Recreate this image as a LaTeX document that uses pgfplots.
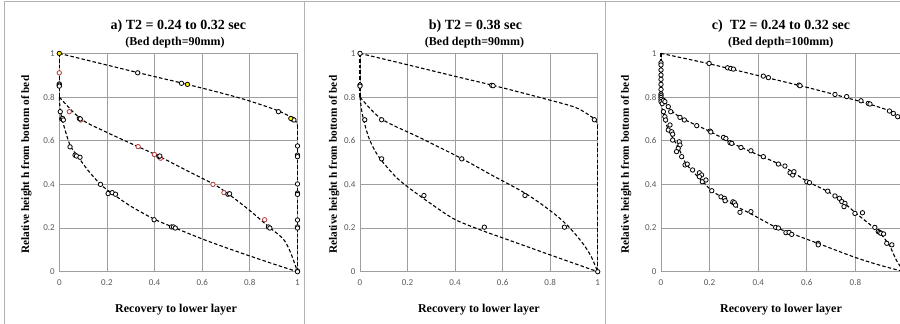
\documentclass[border=0pt]{standalone}
\usepackage{pgfplots}
\pgfplotsset{compat=1.18}
\usepackage{fontspec}
\setmainfont{Liberation Serif}
\newfontfamily\carlito{Carlito}
\definecolor{gridc}{gray}{0.62}
\definecolor{tickc}{gray}{0.35}
\definecolor{redm}{RGB}{180,60,58}
\definecolor{borderc}{gray}{0.70}
\pgfplotsset{
  panel/.style={
    scale only axis, height=218.3pt,
    xmin=0, xmax=1, ymin=0, ymax=1,
    xtick={0,0.2,0.4,0.6,0.8,1}, ytick={0,0.2,0.4,0.6,0.8,1},
    grid=major, grid style={draw=gridc, line width=0.8pt},
    axis line style={draw=gridc, line width=0.8pt},
    major tick length=0pt,
    tick label style={font=\carlito\fontsize{9}{10}\selectfont, text=tickc},
    /pgf/number format/assume math mode=true,
    xticklabel style={yshift=-4pt}, yticklabel style={xshift=-1pt},
    clip=false, anchor=south west,
  },
  dline/.style={black, line width=1.1pt, dash pattern=on 3.5pt off 2.2pt, no marks},
  bm/.style={only marks, mark=*, mark size=2.2pt, mark options={draw=black, fill=white, line width=0.8pt, solid}},
  rm/.style={only marks, mark=*, mark size=2.2pt, mark options={draw=redm, fill=white, line width=0.8pt, solid}},
  ym/.style={only marks, mark=*, mark size=2.2pt, mark options={draw=black, fill=yellow, line width=0.8pt, solid}},
}
\tikzset{
  ttl/.style={anchor=base, font=\fontsize{14}{16}\selectfont\bfseries},
  sttl/.style={anchor=base, font=\fontsize{12}{14}\selectfont\bfseries},
  xlab/.style={anchor=base, font=\fontsize{12}{14}\selectfont\bfseries},
  ylab/.style={anchor=base, rotate=90, font=\fontsize{11.3}{13}\selectfont\bfseries},
}
\begin{document}
\begin{tikzpicture}[x=1pt,y=1pt]
\path[use as bounding box] (0,0) rectangle (900,324);
\clip (0,0) rectangle (900,324);
\fill[white] (0,0) rectangle (900,324);
\draw[borderc, line width=0.8pt] (4,0) -- (4,322.3) -- (900,322.3);
\draw[borderc, line width=0.8pt] (304,0) -- (304,322.3);
\draw[borderc, line width=0.8pt] (605,0) -- (605,322.3);

% ---------------- panel a ----------------
\begin{axis}[panel, width=238.2pt, at={(59.3pt,52.3pt)}]
\addplot[dline] coordinates {(0,1) (0,0.8)};
\addplot[dline, smooth] coordinates {(0,1) (0.33,0.912) (0.53,0.86) (0.75,0.798) (0.9,0.745) (0.96,0.716) (0.99,0.695) (1,0.67)};
\addplot[dline] coordinates {(1,0.67) (1,0)};
\addplot[dline, smooth] coordinates {(0,0.8) (0.09,0.70) (0.2,0.638) (0.33,0.573) (0.42,0.528) (0.55,0.455) (0.65,0.40) (0.71,0.356) (0.8,0.28) (0.88,0.205) (0.94,0.15) (0.97,0.09) (1,0)};
\addplot[dline, smooth] coordinates {(0,0.8) (0.004,0.74) (0.015,0.685) (0.045,0.58) (0.08,0.525) (0.12,0.465) (0.173,0.40) (0.22,0.36) (0.3,0.3) (0.4,0.24) (0.48,0.203) (0.6,0.15) (0.7,0.11) (0.8,0.072) (0.9,0.035) (1,0)};
\addplot[rm] coordinates {(0,0.911) (0,0.855) (0.042,0.733) (0.09,0.695) (0.331,0.573) (0.399,0.537) (0.425,0.52) (0.645,0.40) (0.691,0.362) (0.862,0.238)};
\addplot[bm] coordinates {(0,0.86) (0,0.855) (0,0.85) (0.329,0.911) (0.513,0.863) (0.92,0.733) (0.98,0.698) (0.985,0.695)
 (0.084,0.702) (0.088,0.70) (0.418,0.528) (0.422,0.53) (0.708,0.355) (0.715,0.357) (0.878,0.205) (0.884,0.2)
 (0.004,0.733) (0.01,0.70) (0.014,0.702) (0.017,0.695) (0.045,0.572) (0.066,0.534) (0.072,0.53) (0.087,0.524)
 (0.173,0.40) (0.205,0.358) (0.222,0.362) (0.236,0.355) (0.398,0.238) (0.471,0.205) (0.479,0.205) (0.487,0.2)
 (1,0.576) (1,0.534) (1,0.527) (1,0.402) (1,0.36) (1,0.354) (1,0.237) (1,0.205) (1,0.2) (1,0.003) (1,0)};
\addplot[ym] coordinates {(0,1) (0.538,0.858) (0.972,0.702)};
\node[ttl] at (rel axis cs:0.5,1.109) {a) T2 = 0.24 to 0.32 sec};
\node[sttl] at (rel axis cs:0.486,1.034) {(Bed depth=90mm)};
\node[xlab] at (rel axis cs:0.49,-0.185) {Recovery to lower layer};
\node[ylab] at (rel axis cs:-0.127,0.49) {Relative height h from bottom of bed};
\end{axis}

% ---------------- panel b ----------------
\begin{axis}[panel, width=237.7pt, at={(360pt,52.3pt)}]
\addplot[dline] coordinates {(0,1) (0,0.8)};
\addplot[dline, smooth] coordinates {(0,1) (0.2,0.948) (0.4,0.895) (0.554,0.855) (0.75,0.80) (0.9,0.755) (0.96,0.72) (0.99,0.695) (1,0.67)};
\addplot[dline] coordinates {(1,0.67) (1,0)};
\addplot[dline, smooth] coordinates {(0,0.8) (0.09,0.70) (0.25,0.615) (0.43,0.517) (0.55,0.445) (0.694,0.36) (0.8,0.28) (0.87,0.215) (0.93,0.14) (0.97,0.075) (1,0)};
\addplot[dline, smooth] coordinates {(0,0.8) (0.01,0.72) (0.035,0.62) (0.06,0.56) (0.09,0.51) (0.15,0.435) (0.2,0.389) (0.3,0.31) (0.4,0.239) (0.52,0.186) (0.6,0.155) (0.8,0.077) (1,0)};
\addplot[bm] coordinates {(0,1) (0,0.855) (0,0.85) (0.554,0.854) (0.56,0.852) (0.986,0.696) (0.02,0.696) (0.091,0.696) (0.091,0.517)
 (0.428,0.517) (0.269,0.349) (0.694,0.349) (0.523,0.204) (0.86,0.204) (1,0)};
\node[ttl] at (rel axis cs:0.486,1.109) {b) T2 = 0.38 sec};
\node[sttl] at (rel axis cs:0.482,1.034) {(Bed depth=90mm)};
\node[xlab] at (rel axis cs:0.5,-0.185) {Recovery to lower layer};
\node[ylab] at (rel axis cs:-0.097,0.49) {Relative height h from bottom of bed};
\end{axis}

% ---------------- panel c ----------------
\begin{axis}[panel, width=243pt, at={(661pt,52.3pt)}, xticklabels={0,0.2,0.4,0.6,0.8,{}}]
\addplot[dline] coordinates {(0,1) (0,0.78)};
\addplot[dline, smooth] coordinates {(0,1) (0.2,0.952) (0.42,0.893) (0.57,0.853) (0.72,0.81) (0.85,0.77) (0.94,0.737) (0.975,0.712) (1,0.68)};
\addplot[dline] coordinates {(1,0.68) (1,0)};
\addplot[dline, smooth] coordinates {(0,0.8) (0.02,0.77) (0.05,0.73) (0.1,0.695) (0.2,0.643) (0.3,0.585) (0.4,0.535) (0.5,0.485) (0.6,0.415) (0.69,0.365) (0.75,0.318) (0.8,0.27) (0.85,0.225) (0.9,0.178) (0.94,0.12) (0.97,0.05) (1,0)};
\addplot[dline, smooth] coordinates {(0,0.8) (0.005,0.75) (0.015,0.70) (0.03,0.65) (0.05,0.61) (0.075,0.56) (0.1,0.5) (0.13,0.46) (0.17,0.415) (0.21,0.37) (0.26,0.335) (0.3,0.305) (0.37,0.265) (0.47,0.205) (0.53,0.178) (0.65,0.128) (0.8,0.065) (0.9,0.03) (1,0)};
\addplot[bm] coordinates {(0,0.957) (0,0.947) (0,0.924) (0,0.901) (0,0.881) (0,0.858) (0,0.835) (0,0.814) (0,0.806) (0,0.798) (0,0.789) (0,0.779) (0.005,0.77) (0.01,0.785)
 (0.198,0.954) (0.274,0.934) (0.287,0.931) (0.298,0.928) (0.421,0.896) (0.442,0.889) (0.568,0.855) (0.572,0.852) (0.716,0.812) (0.764,0.802) (0.823,0.783) (0.853,0.771) (0.86,0.768) (0.94,0.736) (0.956,0.725) (0.974,0.71)
 (0.016,0.779) (0.03,0.756) (0.04,0.733) (0.078,0.707) (0.096,0.695) (0.147,0.669) (0.202,0.644) (0.205,0.64) (0.257,0.615) (0.267,0.61) (0.284,0.591) (0.291,0.588) (0.329,0.569) (0.37,0.554) (0.421,0.527) (0.483,0.493) (0.51,0.484)
 (0.531,0.453) (0.542,0.443) (0.547,0.458) (0.6,0.412) (0.611,0.408) (0.686,0.369) (0.716,0.347) (0.734,0.336) (0.744,0.321) (0.757,0.313) (0.753,0.298) (0.798,0.267) (0.829,0.27) (0.88,0.203) (0.894,0.184) (0.9,0.18) (0.905,0.176) (0.916,0.173) (0.929,0.13) (0.95,0.123)
 (0.01,0.733) (0.016,0.71) (0.019,0.695) (0.037,0.672) (0.03,0.649) (0.044,0.641) (0.048,0.63) (0.048,0.603) (0.075,0.595) (0.078,0.58) (0.071,0.565) (0.064,0.55) (0.085,0.527) (0.099,0.489) (0.108,0.493) (0.13,0.466)
 (0.158,0.453) (0.167,0.443) (0.158,0.435) (0.17,0.412) (0.185,0.42) (0.209,0.371) (0.247,0.343) (0.261,0.336) (0.264,0.325) (0.296,0.32) (0.302,0.316) (0.307,0.305) (0.325,0.272) (0.37,0.275)
 (0.472,0.203) (0.483,0.2) (0.514,0.179) (0.527,0.18) (0.538,0.171) (0.647,0.13) (0.647,0.123)};
\node[ttl] at (rel axis cs:0.494,1.109) {c)\ \ T2 = 0.24 to 0.32 sec};
\node[sttl] at (rel axis cs:0.493,1.034) {(Bed depth=100mm)};
\node[xlab] at (rel axis cs:0.494,-0.185) {Recovery to lower layer};
\node[ylab] at (rel axis cs:-0.132,0.49) {Relative height h from bottom of bed};
\end{axis}
\end{tikzpicture}
\end{document}
